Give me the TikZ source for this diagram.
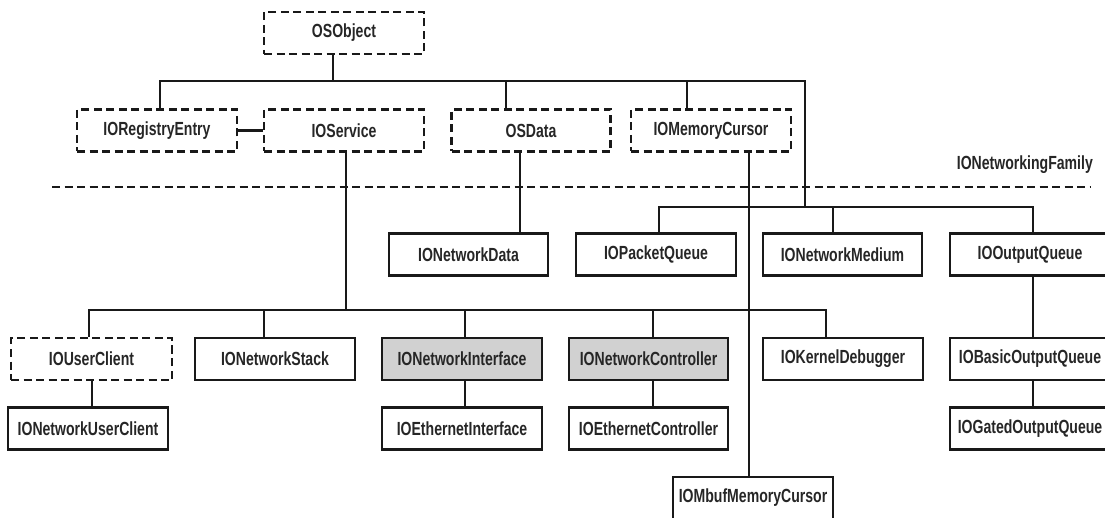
\documentclass[tikz,border=0pt]{standalone}
\usepackage{fontspec}
\newfontfamily\nf{Liberation Sans}[FakeStretch=0.74]
\usetikzlibrary{calc}
\tikzset{
  cls/.style={draw=black!90, line width=2.6pt, minimum width=160pt, minimum height=42pt,
    inner sep=0pt, text=black!85, font=\nf\bfseries\fontsize{19}{21}\selectfont},
  abs/.style={cls, dash pattern=on 8pt off 4.5pt},
  hl/.style={cls, fill=black!18},
  conn/.style={draw=black!90, line width=2.8pt},
  sep/.style={draw=black!90, line width=2.8pt, dash pattern=on 8pt off 4.5pt}
}
\begin{document}
\begin{tikzpicture}[x=1pt,y=-1pt]
\useasboundingbox (0,0) rectangle (1105,518);
% row 1
\node[abs] (obj) at (344,33) {OSObject};
% row 2
\node[abs] (reg) at (157,130.5) {IORegistryEntry};
\node[abs] (svc) at (344,130.5) {IOService};
\node[abs, minimum width=159pt] (osdata) at (531,130.5) {OSData};
\node[abs] (memcur) at (711,130.5) {IOMemoryCursor};
% family label and separator
\node[anchor=east, inner sep=0pt, text=black!85, font=\nf\bfseries\fontsize{19}{21}\selectfont] (fam) at (1093,165) {IONetworkingFamily};
\coordinate (sepL) at (52,187);
\coordinate (sepR) at (1090,187);
\draw[sep] (sepL) -- (sepR);
% row 3
\node[cls, minimum width=159pt] (netdata) at (468.5,254.5) {IONetworkData};
\node[cls] (pktq) at (656,254.5) {IOPacketQueue};
\node[cls, minimum width=159pt] (medium) at (842.5,254.5) {IONetworkMedium};
\node[cls] (outq) at (1030,254.5) {IOOutputQueue};
% row 4
\node[abs, minimum width=161pt] (uclient) at (91.5,359) {IOUserClient};
\node[cls] (nstack) at (275,359) {IONetworkStack};
\node[hl] (netif) at (462,359) {IONetworkInterface};
\node[hl, minimum width=159pt] (netctrl) at (648.5,359) {IONetworkController};
\node[cls] (kdebug) at (843,359) {IOKernelDebugger};
\node[cls] (basicq) at (1030,359) {IOBasicOutputQueue};
% row 5
\node[cls] (nuclient) at (88,428.5) {IONetworkUserClient};
\node[cls] (ethif) at (462,428.5) {IOEthernetInterface};
\node[cls, minimum width=159pt] (ethctrl) at (648.5,428.5) {IOEthernetController};
\node[cls] (gatedq) at (1030,428.5) {IOGatedOutputQueue};
% row 6
\node[cls] (mbuf) at (753,498) {IOMbufMemoryCursor};

% junction coordinates
\coordinate (jObj) at (333,81);
\coordinate (jReg) at (160,81);
\coordinate (jOSD) at (506,81);
\coordinate (jMC) at (687,81);
\coordinate (jR) at (805,81);
\coordinate (jR2) at (805,207);
\coordinate (jPQ) at (659,207);
\coordinate (jMed) at (833,207);
\coordinate (jOQ) at (1033,207);
\coordinate (jSvc) at (346,310);
\coordinate (jUC) at (89,310);
\coordinate (jNS) at (264,310);
\coordinate (jNI) at (465,310);
\coordinate (jNC) at (653,310);
\coordinate (jKD) at (826,310);
\coordinate (xOSD) at (520,0);
\coordinate (xMC) at (749,0);
\coordinate (xUC) at (92,0);

% top tree
\draw[conn] (obj.south -| jObj) -- (jObj);
\draw[conn] (reg.north -| jReg) -- (jReg) -- (jR) -- (jR2);
\draw[conn] (osdata.north -| jOSD) -- (jOSD);
\draw[conn] (memcur.north -| jMC) -- (jMC);
\draw[conn, line width=2.2pt] (reg.east) -- (svc.west);
% second bus
\draw[conn] (pktq.north -| jPQ) -- (jPQ) -- (jOQ) -- (outq.north -| jOQ);
\draw[conn] (medium.north -| jMed) -- (jMed);
\draw[conn] (osdata.south -| xOSD) -- (netdata.north -| xOSD);
\draw[conn] (memcur.south -| xMC) -- (mbuf.north -| xMC);
\draw[conn] (outq.south -| jOQ) -- (basicq.north -| jOQ);
\draw[conn] (basicq.south -| jOQ) -- (gatedq.north -| jOQ);
% bottom bus
\draw[conn] (svc.south -| jSvc) -- (jSvc);
\draw[conn] (uclient.north -| jUC) -- (jUC) -- (jKD) -- (kdebug.north -| jKD);
\draw[conn] (nstack.north -| jNS) -- (jNS);
\draw[conn] (netif.north -| jNI) -- (jNI);
\draw[conn] (netctrl.north -| jNC) -- (jNC);
\draw[conn] (uclient.south -| xUC) -- (nuclient.north -| xUC);
\draw[conn] (netif.south -| jNI) -- (ethif.north -| jNI);
\draw[conn] (netctrl.south -| jNC) -- (ethctrl.north -| jNC);
\end{tikzpicture}
\end{document}
